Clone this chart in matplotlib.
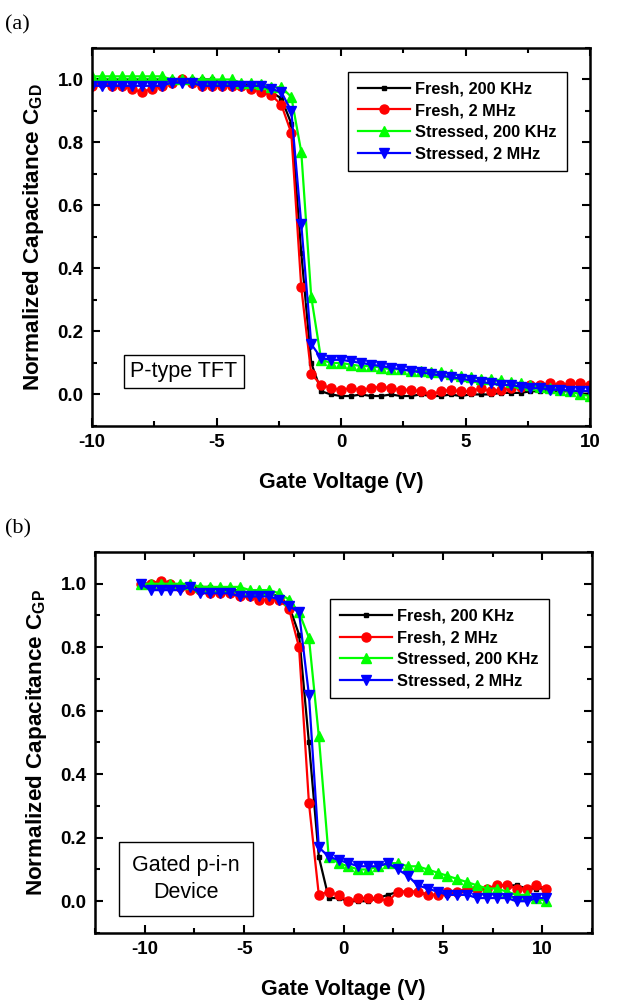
import numpy as np
import matplotlib
matplotlib.use("Agg")
import matplotlib.pyplot as plt
from matplotlib.ticker import MultipleLocator

plt.rcParams['font.family'] = ['Liberation Sans', 'DejaVu Sans']
plt.rcParams['mathtext.fontset'] = 'custom'
plt.rcParams['mathtext.rm'] = 'Liberation Sans:bold'
plt.rcParams['mathtext.bf'] = 'Liberation Sans:bold'
plt.rcParams['axes.unicode_minus'] = False

labels = ["Fresh, 200 KHz", "Fresh, 2 MHz", "Stressed, 200 KHz", "Stressed, 2 MHz"]

# ---- panel (a): P-type TFT, gate sweep -10..10 V, 0.4 V step
va = np.linspace(-10, 10, 51)
a_fresh_200k = [1.0, 1.0, 1.0, 1.0, 1.0, 1.0, 1.0, 1.0, 1.0, 1.0,
                1.0, 1.0, 1.0, 0.99, 0.99, 0.99, 0.98, 0.98, 0.96, 0.94,
                0.86, 0.45, 0.10, 0.01, 0.0,
                -0.005, -0.005, 0.0, -0.005, -0.005, 0.0, -0.005, -0.005, 0.0, -0.005,
                -0.005, 0.0, -0.005, 0.0, 0.0, 0.0, 0.005, 0.005, 0.005, 0.01,
                0.01, 0.01, 0.01, 0.01, 0.01, 0.01]
a_fresh_2m = [0.98, 0.99, 0.98, 0.98, 0.97, 0.96, 0.97, 0.98, 0.99, 1.0,
              0.99, 0.98, 0.98, 0.98, 0.98, 0.98, 0.97, 0.96, 0.95, 0.92,
              0.83, 0.34, 0.065, 0.03, 0.02,
              0.015, 0.02, 0.015, 0.02, 0.025, 0.02, 0.015, 0.015, 0.01, 0.0,
              0.01, 0.015, 0.01, 0.01, 0.02, 0.01, 0.015, 0.02, 0.025, 0.03,
              0.03, 0.035, 0.03, 0.035, 0.035, 0.03]
a_stress_200k = [1.01, 1.01, 1.01, 1.01, 1.01, 1.01, 1.01, 1.01, 1.0, 1.0,
                 1.0, 1.0, 1.0, 1.0, 1.0, 0.99, 0.99, 0.985, 0.975, 0.975,
                 0.945, 0.77, 0.31, 0.11, 0.10,
                 0.10, 0.095, 0.09, 0.09, 0.085, 0.08, 0.08, 0.075, 0.075, 0.07,
                 0.07, 0.065, 0.06, 0.055, 0.05, 0.05, 0.045, 0.04, 0.035, 0.03,
                 0.025, 0.02, 0.015, 0.01, 0.0, -0.005]
a_stress_2m = [0.98, 0.98, 0.98, 0.98, 0.98, 0.98, 0.98, 0.98, 0.99, 0.99,
               0.99, 0.98, 0.98, 0.98, 0.98, 0.98, 0.98, 0.98, 0.97, 0.96,
               0.90, 0.54, 0.16, 0.115, 0.11,
               0.11, 0.105, 0.10, 0.095, 0.09, 0.085, 0.08, 0.075, 0.07, 0.065,
               0.06, 0.055, 0.05, 0.045, 0.04, 0.035, 0.03, 0.03, 0.025, 0.02,
               0.02, 0.015, 0.015, 0.012, 0.012, 0.01]

# ---- panel (b): Gated p-i-n device
vb = np.linspace(-10.2, 10.2, 42)
b_fresh_200k = [1.0, 1.0, 1.0, 1.0, 0.99, 0.99, 0.99, 0.99, 0.98, 0.98,
                0.98, 0.97, 0.97, 0.97, 0.96, 0.93, 0.84, 0.50, 0.14, 0.01,
                0.01, 0.0, 0.0, 0.0, 0.01, 0.02, 0.03, 0.03, 0.03, 0.02,
                0.02, 0.02, 0.03, 0.03, 0.04, 0.04, 0.05, 0.05, 0.05, 0.04,
                0.04, 0.04]
b_fresh_2m = [1.0, 1.0, 1.01, 1.0, 0.99, 0.98, 0.98, 0.97, 0.97, 0.97,
              0.96, 0.96, 0.95, 0.95, 0.95, 0.92, 0.80, 0.31, 0.02, 0.03,
              0.02, 0.0, 0.01, 0.01, 0.01, 0.0, 0.03, 0.03, 0.03, 0.02,
              0.02, 0.03, 0.03, 0.04, 0.04, 0.04, 0.05, 0.05, 0.04, 0.04,
              0.05, 0.04]
b_stress_200k = [1.0, 1.0, 1.0, 1.0, 1.0, 1.0, 0.99, 0.99, 0.99, 0.99,
                 0.99, 0.98, 0.98, 0.98, 0.97, 0.95, 0.91, 0.83, 0.52, 0.14,
                 0.12, 0.11, 0.10, 0.10, 0.11, 0.12, 0.12, 0.11, 0.11, 0.10,
                 0.09, 0.08, 0.07, 0.06, 0.05, 0.04, 0.04, 0.03, 0.02, 0.02,
                 0.01, 0.0]
b_stress_2m = [1.0, 0.98, 0.98, 0.98, 0.98, 0.99, 0.97, 0.97, 0.97, 0.97,
               0.96, 0.96, 0.96, 0.96, 0.95, 0.93, 0.91, 0.65, 0.17, 0.14,
               0.13, 0.12, 0.11, 0.11, 0.11, 0.12, 0.10, 0.08, 0.05, 0.04,
               0.03, 0.02, 0.02, 0.02, 0.01, 0.01, 0.01, 0.01, 0.0, 0.0,
               0.01, 0.01]

styles = [dict(color='black', marker='s', markersize=3.5),
          dict(color='#ff0000', marker='o', markersize=6.5),
          dict(color='#00ff00', marker='^', markersize=7),
          dict(color='#0000ff', marker='v', markersize=7.5)]

fig = plt.figure(figsize=(6.19, 10.02), dpi=100)
ax1 = fig.add_axes([0.1486, 0.5749, 0.805, 0.3772])
ax2 = fig.add_axes([0.1535, 0.0689, 0.803, 0.3802])


def style_axes(ax, xlim, ylab_sub, xticks):
    ax.set_xlim(*xlim)
    ax.set_ylim(-0.1, 1.1)
    ax.set_xticks(xticks)
    ax.set_yticks([0.0, 0.2, 0.4, 0.6, 0.8, 1.0])
    ax.xaxis.set_minor_locator(MultipleLocator(2.5))
    ax.yaxis.set_minor_locator(MultipleLocator(0.1))
    ax.tick_params(which='both', direction='in', top=True, right=True, width=1.5)
    ax.tick_params(which='major', length=6, labelsize=13.5, pad=6)
    ax.tick_params(which='minor', length=3.5)
    for lab in ax.get_xticklabels() + ax.get_yticklabels():
        lab.set_fontweight('bold')
    for sp in ax.spines.values():
        sp.set_linewidth(1.8)
    ax.set_xlabel('Gate Voltage (V)', fontsize=15.5, fontweight='bold', labelpad=15)
    ax.set_ylabel('Normalized Capacitance C$_{\\rm %s}$' % ylab_sub,
                  fontsize=16.2, fontweight='bold', labelpad=8)


series_a = [a_fresh_200k, a_fresh_2m, a_stress_200k, a_stress_2m]
series_b = [b_fresh_200k, b_fresh_2m, b_stress_200k, b_stress_2m]

for ys, st, lab in zip(series_a, styles, labels):
    ax1.plot(va, ys, lw=1.6, label=lab, **st)
for ys, st, lab in zip(series_b, styles, labels):
    ax2.plot(vb, ys, lw=1.6, label=lab, **st)

style_axes(ax1, (-10, 10), 'GD', [-10, -5, 0, 5, 10])
style_axes(ax2, (-12.5, 12.5), 'GP', [-10, -5, 0, 5, 10])

for ax, anchor in [(ax1, (0.953, 0.937)), (ax2, (0.913, 0.877))]:
    leg = ax.legend(loc='upper right', bbox_to_anchor=anchor, fancybox=False,
                    edgecolor='black', framealpha=1, handlelength=3.2,
                    prop={'weight': 'bold', 'size': 11.8}, borderpad=0.6,
                    labelspacing=0.4, handletextpad=0.3, borderaxespad=0)
    leg.get_frame().set_linewidth(1.0)

ax1.text(0.184, 0.144, 'P-type TFT', transform=ax1.transAxes, fontsize=15.5,
         ha='center', va='center',
         bbox=dict(boxstyle='square,pad=0.3', fc='white', ec='black', lw=1.0))
ax2.text(0.183, 0.142, 'Gated p-i-n\nDevice', transform=ax2.transAxes, fontsize=15.5,
         ha='center', va='center', linespacing=1.35,
         bbox=dict(boxstyle='square,pad=0.6', fc='white', ec='black', lw=1.0))

fig.text(0.008, 0.985, '(a)', fontsize=16, family='Liberation Serif', va='top')
fig.text(0.008, 0.482, '(b)', fontsize=16, family='Liberation Serif', va='top')

fig.savefig('out.png', dpi=100)
